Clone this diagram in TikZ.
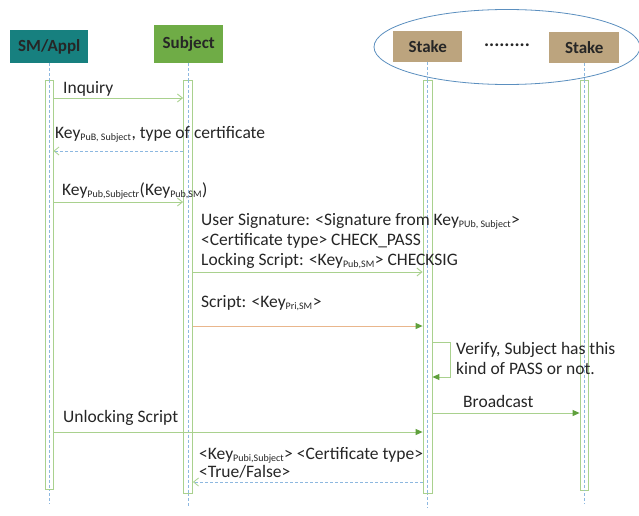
\documentclass[tikz,border=0pt]{standalone}
\usepackage{fontspec}
\setmainfont{Carlito}
\usetikzlibrary{arrows.meta,shapes.geometric}
\definecolor{teal1}{HTML}{17807F}
\definecolor{green1}{HTML}{6FAC46}
\definecolor{tan1}{HTML}{BCA47E}
\definecolor{lgreen}{HTML}{A9D18E}
\definecolor{dgreen}{HTML}{5FA03C}
\definecolor{lblue}{HTML}{8DB8E0}
\definecolor{ellblue}{HTML}{5B8FBF}
\definecolor{orng}{HTML}{E9B68C}
\definecolor{txt}{HTML}{262626}
\newcommand{\sbs}[1]{\textsubscript{\fontsize{10}{10}\selectfont #1}}
\tikzset{
  actor/.style={inner sep=0pt, anchor=north west},
  atext/.style={font=\fontsize{17}{18}\selectfont\bfseries, text=txt},
  lbl/.style={font=\fontsize{17.5}{20}\selectfont, text=txt, inner sep=0pt, anchor=base west},
  bar/.style={draw=lgreen, line width=0.8pt, fill=white, minimum width=8pt, inner sep=0pt},
  life/.style={draw=lblue, line width=0.6pt, dash pattern=on 3pt off 2pt},
  msg/.style={draw=lgreen, line width=0.9pt, -{Straight Barb[length=5pt,width=8pt]}},
  ret/.style={draw=lblue, line width=0.8pt, dash pattern=on 3pt off 2pt, -{Straight Barb[length=5pt,width=8pt,color=lgreen]}},
  fmsg/.style={draw=lgreen, line width=0.9pt, -{Triangle[length=7pt,width=6pt,color=dgreen]}},
}
\begin{document}
\begin{tikzpicture}[x=1pt,y=-1pt]
\useasboundingbox (0,0) rectangle (639,516);
\fill[white] (0,0) rectangle (639,516);
% group ellipse
\node[draw=ellblue, line width=0.8pt, ellipse, minimum width=266pt, minimum height=75pt, inner sep=0pt] (grp) at (507,47) {};
% actors
\node[actor, fill=teal1, minimum width=78pt, minimum height=33pt] (sm) at (10,30) {};
\node[atext] (smt) at (sm.center) {SM/Appl};
\node[actor, fill=green1, minimum width=69pt, minimum height=38pt] (sub) at (154,25) {};
\node[atext] (subt) at (sub.center) {Subject};
\node[actor, fill=tan1, minimum width=69pt, minimum height=31pt] (st1) at (393,31) {};
\node[atext] (st1t) at (st1.center) {Stake};
\node[actor, fill=tan1, minimum width=70pt, minimum height=31pt] (st2) at (549,32) {};
\node[atext] (st2t) at (st2.center) {Stake};
\node[atext, font=\fontsize{19}{19}\selectfont\bfseries] (dots) at (507,45) {.........};
% lifeline ends
\coordinate (smend) at (49,504);
\coordinate (subend) at (188,508);
\coordinate (st1end) at (427.5,508);
\coordinate (st2end) at (584,504);
\draw[life] (sm.south -| smend) -- (smend);
\draw[life] (sub.south -| subend) -- (subend);
\draw[life] (st1.south -| st1end) -- (st1end);
\draw[life] (st2.south -| st2end) -- (st2end);
% activation bars
\node[bar, minimum height=409pt] (smbar) at (49,284.5) {};
\node[bar, minimum height=413pt, minimum width=9pt] (subbar) at (188,286.5) {};
\node[bar, minimum height=413pt, minimum width=9pt] (st1bar) at (427.5,286.5) {};
\node[bar, minimum height=410pt] (st2bar) at (584,285) {};
\draw[life] (smbar.north) -- (smbar.south);
\draw[life] (subbar.north) -- (subbar.south);
\draw[life] (st1bar.north) -- (st1bar.south);
\draw[life] (st2bar.north) -- (st2bar.south);
% message levels
\coordinate (y1) at (0,98);
\coordinate (y2) at (0,151);
\coordinate (y3) at (0,202);
\coordinate (y4) at (0,272);
\coordinate (y5) at (0,326);
\coordinate (y6) at (0,342);
\coordinate (y7) at (0,377);
\coordinate (y8) at (0,413);
\coordinate (y9) at (0,432);
\coordinate (y10) at (0,482);
% messages
\node[lbl] (l1) at (63,94) {Inquiry};
\draw[msg] (smbar.east |- y1) -- (subbar.west |- y1);
\node[lbl] (l2) at (55,138) {Key\sbs{PuB, Subject}, type of certificate};
\draw[ret] (subbar.west |- y2) -- (smbar.east |- y2);
\node[lbl] (l3) at (62,195) {Key\sbs{Pub,Subjectr}(Key\sbs{Pub,SM})};
\draw[msg] (smbar.east |- y3) -- (subbar.west |- y3);
\node[lbl] (l4a) at (201,225) {User Signature: <Signature from Key\sbs{PUb, Subject}>};
\node[lbl] (l4b) at (201,245) {<Certificate type> CHECK\_PASS};
\node[lbl] (l4c) at (201,265) {Locking Script: <Key\sbs{Pub,SM}> CHECKSIG};
\draw[msg] (subbar.east |- y4) -- (st1bar.west |- y4);
\node[lbl] (l5) at (201,307) {Script: <Key\sbs{Pri,SM}>};
\draw[fmsg, draw=orng] (subbar.east |- y5) -- (st1bar.west |- y5);
\draw[fmsg] (st1bar.east |- y6) -- ++(18,0) coordinate (vc1) -- (vc1 |- y7) -- (st1bar.east |- y7);
\node[lbl] (l6a) at (456,354) {Verify, Subject has this};
\node[lbl] (l6b) at (456,374) {kind of PASS or not.};
\node[lbl] (l7) at (463,407) {Broadcast};
\draw[fmsg] (st1bar.east |- y8) -- (st2bar.west |- y8);
\node[lbl] (l8) at (63,422) {Unlocking Script};
\draw[fmsg] (smbar.east |- y9) -- (st1bar.west |- y9);
\node[lbl] (l9a) at (199,459) {<Key\sbs{Pubi,Subject}> <Certificate type>};
\node[lbl] (l9b) at (199,477) {<True/False>};
\draw[ret] (st1bar.west |- y10) -- (subbar.east |- y10);
\end{tikzpicture}
\end{document}
